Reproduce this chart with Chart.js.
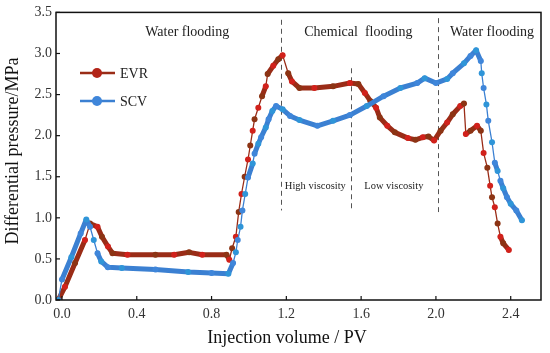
<!DOCTYPE html>
<html>
<head>
<meta charset="utf-8">
<script src="https://cdn.jsdelivr.net/npm/chart.js@4.4.0/dist/chart.umd.min.js"></script>
<style>
	html, body { margin: 0; padding: 0; background: #fff; }
	#wrap { width: 550px; height: 353px; }
</style>
</head>
<body>
<div id="wrap"><canvas id="chart" width="550" height="353"></canvas></div>
<script>
// EVR curve
const evrX = [-0.02, 0.016, 0.07, 0.123, 0.15, 0.19, 0.214, 0.246, 0.27, 0.35, 0.5, 0.6, 0.68, 0.75, 0.88, 0.895,
	0.91, 0.93, 0.945, 0.96, 0.977, 0.995, 1.007, 1.02, 1.03, 1.05, 1.07, 1.09, 1.10, 1.13, 1.157, 1.18,
	1.21, 1.23, 1.27, 1.35, 1.45, 1.54, 1.585, 1.62, 1.65, 1.68, 1.70, 1.74, 1.78, 1.85, 1.89, 1.93, 1.96, 1.99,
	2.025, 2.06, 2.09, 2.13, 2.15, 2.16, 2.185, 2.22, 2.24, 2.255, 2.275, 2.29, 2.30, 2.315, 2.33, 2.345, 2.36, 2.39];
const evrY = [0, 0.16, 0.45, 0.73, 0.93, 0.89, 0.77, 0.65, 0.57, 0.55, 0.55, 0.55, 0.58, 0.55, 0.55, 0.49,
	0.63, 0.77, 1.07, 1.29, 1.50, 1.71, 1.88, 2.06, 2.20, 2.34, 2.48, 2.60, 2.75, 2.85, 2.93, 2.98,
	2.76, 2.66, 2.58, 2.58, 2.60, 2.64, 2.63, 2.52, 2.42, 2.34, 2.22, 2.12, 2.04, 1.97, 1.95, 1.98, 1.99, 1.94,
	2.06, 2.16, 2.26, 2.36, 2.39, 2.02, 2.06, 2.12, 2.06, 1.79, 1.61, 1.39, 1.25, 1.13, 0.93, 0.77, 0.69, 0.61];

// SCV curve
const scvX = [-0.02, 0.0, 0.05, 0.10, 0.13, 0.15, 0.17, 0.19, 0.21, 0.245, 0.32, 0.50, 0.675, 0.80, 0.89,
	0.915, 0.93, 0.94, 0.955, 0.965, 0.98, 0.995, 1.02, 1.03, 1.05, 1.065, 1.09, 1.105, 1.125, 1.145,
	1.18, 1.22, 1.27, 1.366, 1.45, 1.54, 1.63, 1.72, 1.81, 1.90, 1.94, 2.0, 2.06, 2.09, 2.15, 2.185, 2.215,
	2.24, 2.245, 2.255, 2.27, 2.28, 2.30, 2.315, 2.33, 2.345, 2.36, 2.38, 2.40, 2.43, 2.46];
const scvY = [0, 0.25, 0.52, 0.81, 0.98, 0.89, 0.73, 0.57, 0.47, 0.40, 0.39, 0.37, 0.34, 0.33, 0.32,
	0.45, 0.58, 0.73, 0.89, 1.09, 1.29, 1.49, 1.66, 1.78, 1.90, 1.98, 2.10, 2.20, 2.30, 2.36,
	2.32, 2.24, 2.19, 2.12, 2.18, 2.25, 2.36, 2.48, 2.58, 2.64, 2.70, 2.64, 2.69, 2.76, 2.88, 2.97, 3.04,
	2.91, 2.76, 2.58, 2.38, 2.18, 1.92, 1.67, 1.57, 1.45, 1.36, 1.25, 1.17, 1.09, 0.97];

const xTicks = [0.0, 0.4, 0.8, 1.2, 1.6, 2.0, 2.4];
const yTicks = [0.0, 0.5, 1.0, 1.5, 2.0, 2.5, 3.0, 3.5];

// stage boundaries: [x, yTop, yBottom]
const stageLines = [[1.173, 3.41, 1.09], [1.546, 2.82, 1.09], [2.012, 3.43, 1.07]];
const stageLabels = ['Water flooding', 'Chemical  flooding', 'Water flooding'];
const stageLabelX = [0.67, 1.585, 2.30];
const subLabels = ['High viscosity', 'Low viscosity'];
const subLabelX = [1.355, 1.775];

const FONT = "'Liberation Serif', 'Times New Roman', serif";
const EVR_LINE = '#9a2c17';
const SCV_LINE = '#3b80d2';

function pts(xs, ys) { return xs.map((x, i) => ({ x: x, y: ys[i] })); }

// dense (flat) stretches look thick in the original, steep ones thin
function segWidth(ctx) {
	const dx = Math.abs(ctx.p1.x - ctx.p0.x);
	const dy = Math.abs(ctx.p1.y - ctx.p0.y);
	return dy < 3 * dx ? 5 : 1.3;
}

const overlay = {
	id: 'overlay',
	beforeDatasetsDraw(chart) {
		const { ctx, scales: { x, y } } = chart;
		ctx.save();
		ctx.strokeStyle = '#555';
		ctx.lineWidth = 1;
		ctx.setLineDash([5, 4]);
		stageLines.forEach(([v, t, b]) => {
			const px = Math.round(x.getPixelForValue(v)) + 0.5;
			ctx.beginPath();
			ctx.moveTo(px, y.getPixelForValue(t));
			ctx.lineTo(px, y.getPixelForValue(b));
			ctx.stroke();
		});
		ctx.restore();
	},
	afterDraw(chart) {
		const { ctx, chartArea: a, scales: { x, y } } = chart;
		ctx.save();
		// frame
		ctx.strokeStyle = '#111';
		ctx.lineWidth = 1.5;
		ctx.strokeRect(a.left, a.top, a.right - a.left, a.bottom - a.top);
		// inner ticks
		ctx.lineWidth = 1.2;
		xTicks.forEach(v => {
			const px = x.getPixelForValue(v);
			ctx.beginPath(); ctx.moveTo(px, a.bottom); ctx.lineTo(px, a.bottom - 4); ctx.stroke();
		});
		yTicks.forEach(v => {
			const py = y.getPixelForValue(v);
			ctx.beginPath(); ctx.moveTo(a.left, py); ctx.lineTo(a.left + 4, py); ctx.stroke();
		});

		// stage labels
		ctx.fillStyle = '#222';
		ctx.textAlign = 'center';
		ctx.textBaseline = 'middle';
		ctx.font = '14px ' + FONT;
		stageLabels.forEach((t, i) => ctx.fillText(t, x.getPixelForValue(stageLabelX[i]), 32));
		ctx.font = '10.5px ' + FONT;
		subLabels.forEach((t, i) => ctx.fillText(t, x.getPixelForValue(subLabelX[i]), 186));

		// legend
		const leg = [['EVR', EVR_LINE, '#b32418', 73], ['SCV', SCV_LINE, '#3f86da', 101]];
		leg.forEach(([name, line, dot, ly]) => {
			ctx.strokeStyle = line;
			ctx.lineWidth = 2.5;
			ctx.beginPath(); ctx.moveTo(80, ly); ctx.lineTo(115, ly); ctx.stroke();
			ctx.fillStyle = dot;
			ctx.beginPath(); ctx.arc(97, ly, 5, 0, Math.PI * 2); ctx.fill();
			ctx.fillStyle = '#222';
			ctx.textAlign = 'left';
			ctx.font = '14px ' + FONT;
			ctx.fillText(name, 120, ly + 1);
		});

		// axis titles
		ctx.fillStyle = '#111';
		ctx.textAlign = 'center';
		ctx.font = '18px ' + FONT;
		ctx.fillText('Injection volume / PV', 287, 338);
		ctx.translate(13, 151);
		ctx.rotate(-Math.PI / 2);
		ctx.fillText('Differential pressure/MPa', 0, 0);
		ctx.restore();
	}
};

new Chart(document.getElementById('chart'), {
	type: 'line',
	data: {
		datasets: [
			{
				label: 'SCV',
				data: pts(scvX, scvY),
				borderColor: SCV_LINE,
				pointBackgroundColor: c => c.dataIndex % 2 ? '#3f86da' : '#2f95d8',
				pointBorderWidth: 0,
				pointRadius: 3,
				segment: { borderWidth: segWidth },
				borderJoinStyle: 'round',
				borderCapStyle: 'round'
			},
			{
				label: 'EVR',
				data: pts(evrX, evrY),
				borderColor: EVR_LINE,
				pointBackgroundColor: c => c.dataIndex % 2 ? '#d1211b' : '#8c3414',
				pointBorderWidth: 0,
				pointRadius: 3,
				segment: { borderWidth: segWidth },
				borderJoinStyle: 'round',
				borderCapStyle: 'round'
			}
		]
	},
	options: {
		responsive: false,
		devicePixelRatio: 1,
		animation: false,
		layout: { padding: { left: 0, top: 12, right: 9, bottom: 0 } },
		plugins: { legend: { display: false }, tooltip: { enabled: false } },
		scales: {
			x: {
				type: 'linear',
				min: -0.032,
				max: 2.562,
				grid: { display: false, drawTicks: false },
				border: { display: false },
				afterBuildTicks: s => { s.ticks = xTicks.map(v => ({ value: v })); },
				afterFit: s => { s.height = 53; },
				ticks: {
					padding: 6,
					color: '#333',
					font: { family: FONT, size: 14 },
					callback: v => v.toFixed(1)
				}
			},
			y: {
				min: 0,
				max: 3.5,
				grid: { display: false, drawTicks: false },
				border: { display: false },
				afterBuildTicks: s => { s.ticks = yTicks.map(v => ({ value: v })); },
				afterFit: s => { s.width = 56; },
				ticks: {
					padding: 4,
					color: '#333',
					font: { family: FONT, size: 14 },
					callback: v => v.toFixed(1)
				}
			}
		}
	},
	plugins: [overlay]
});
</script>
</body>
</html>
